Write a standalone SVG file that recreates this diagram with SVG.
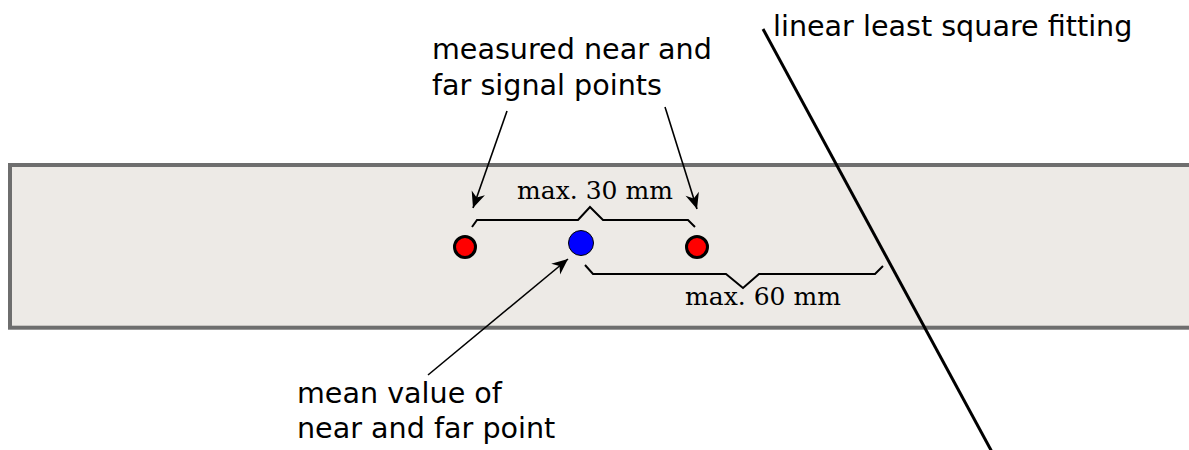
<svg xmlns="http://www.w3.org/2000/svg" width="1189" height="450" viewBox="0 0 1189 450">
<defs>
<style>
.sans{font-family:"DejaVu Sans","Bitstream Vera Sans",sans-serif;font-size:28.6px;fill:#000}
.serif{font-family:"DejaVu Serif",serif;font-size:25px;fill:#000}
.arrow{stroke:#000;stroke-width:1.6;fill:none;marker-end:url(#ah)}
.brace{stroke:#000;stroke-width:2;fill:none;stroke-linejoin:miter}
.red{fill:#ff0000;stroke:#000;stroke-width:3}
.blue{fill:#0000ff;stroke:#000;stroke-width:1}
</style>
<marker id="ah" viewBox="-17 -8 19 16" markerWidth="19" markerHeight="16" refX="0" refY="0" orient="auto" markerUnits="userSpaceOnUse">
<path d="M0,0 L-16,-7 L-11,0 L-16,7 Z" fill="#000"/>
</marker>
</defs>
<g id="strip">
<rect x="10" y="165" width="1200" height="162.7" fill="#edeae6" stroke="#6e6e6e" stroke-width="4"/>
</g>
<g id="fit-line">
<line x1="763" y1="29" x2="992" y2="452" stroke="#000" stroke-width="3"/>
<text class="sans" x="773" y="36">linear least square fitting</text>
</g>
<g id="point-near">
<circle class="red" cx="465" cy="247" r="10.5"/>
</g>
<g id="point-far">
<circle class="red" cx="697" cy="247" r="10.5"/>
</g>
<g id="point-mean">
<circle class="blue" cx="581" cy="243" r="12.5"/>
</g>
<g id="label-measured">
<text class="sans" x="432" y="59">measured near and</text>
<text class="sans" x="432" y="95">far signal points</text>
</g>
<g id="label-mean">
<text class="sans" x="297" y="403">mean value of</text>
<text class="sans" x="297" y="438">near and far point</text>
</g>
<g id="dim-30">
<path class="brace" d="M472,227 L477,220 L578,220 L590,207 L603,220 L688,220 L695,227"/>
<text class="serif" x="595" y="199" text-anchor="middle">max. 30 mm</text>
</g>
<g id="dim-60">
<path class="brace" d="M585,265 L593,274 L726,274 L743,288 L759,274 L875,274 L883,266"/>
<text class="serif" x="763" y="305" text-anchor="middle">max. 60 mm</text>
</g>
<g id="connectors">
<line class="arrow" x1="507" y1="111" x2="473" y2="208"/>
<line class="arrow" x1="665" y1="107" x2="697" y2="209"/>
<line class="arrow" x1="428" y1="375" x2="568" y2="259"/>
</g>
</svg>
